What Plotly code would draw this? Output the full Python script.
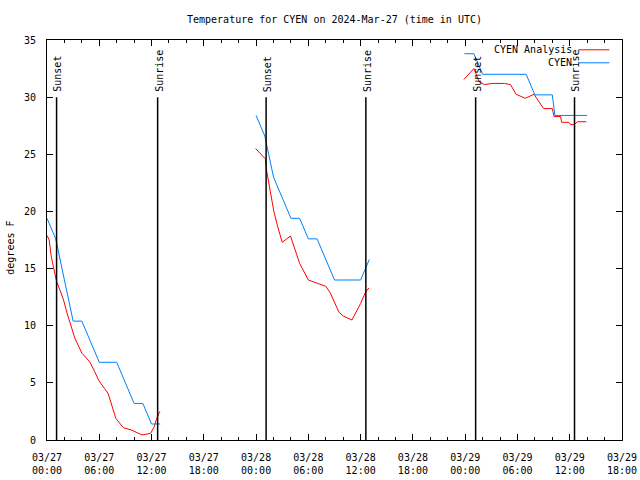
import plotly.graph_objects as go
import pandas as pd

BASE = pd.Timestamp("2024-03-27 00:00")
END_HOURS = 66

# CYEN Analysis (red) - hours since 03/27 00:00 UTC, None = gap
analysis_hours = [
    0.0, 0.25, 0.5, 0.85, 1.1, 1.5, 1.9, 2.3, 2.8, 3.2, 4.0, 4.9, 5.4, 5.95,
    6.6, 7.0, 7.9, 8.75, 9.7, 10.9, 11.9, 12.3, 12.65, 12.95,
    None,
    23.94, 24.7, 25.07, 25.2, 25.47, 25.74, 26.04, 26.43, 27.0, 27.95, 28.7,
    29.0, 30.0, 31.0, 32.0, 32.5, 33.0, 33.5, 34.0, 35.0, 36.0, 36.6, 36.95,
    None,
    47.85, 49.0, 49.6, 50.2, 51.1, 52.5, 53.2, 53.85, 54.3, 54.9, 55.9, 56.5,
    57.0, 58.0, 58.2, 58.96, 59.06, 59.9, 60.1, 60.5, 60.9, 61.9,
]
analysis_temps = [
    17.9, 17.5, 16.0, 14.7, 13.85, 13.1, 12.25, 11.1, 9.9, 8.9, 7.6, 6.85, 6.1, 5.2,
    4.5, 4.1, 1.9, 1.08, 0.87, 0.44, 0.58, 1.16, 2.0, 2.5,
    None,
    25.5, 24.9, 24.6, 23.6, 22.45, 21.1, 20.0, 18.8, 17.3, 17.85, 16.2,
    15.45, 14.0, 13.7, 13.45, 12.9, 12.0, 11.2, 10.85, 10.5, 11.95, 13.0, 13.3,
    None,
    31.55, 32.5, 31.35, 31.1, 31.2, 31.2, 31.1, 30.25, 30.1, 29.9, 30.25, 29.6,
    29.0, 29.0, 28.3, 28.3, 27.8, 27.8, 27.6, 27.6, 27.85, 27.85,
]

# CYEN observations (blue)
obs_hours = [
    0, 1, 2, 3, 4, 5, 6, 7, 8, 9, 10, 11, 12, 13,
    None,
    24, 25, 26, 27, 28, 29, 30, 31, 32, 33, 34, 35, 36, 37,
    None,
    47.9, 49, 50, 55, 56, 58, 58.3, 62,
]
obs_temps = [
    19.4, 17.6, 14.0, 10.4, 10.4, 8.6, 6.8, 6.8, 6.8, 5.0, 3.2, 3.2, 1.4, 1.4,
    None,
    28.4, 26.6, 23.0, 21.2, 19.4, 19.4, 17.6, 17.6, 15.8, 14.0, 14.0, 14.0, 14.0, 15.8,
    None,
    33.8, 33.8, 32.0, 32.0, 30.2, 30.2, 28.4, 28.4,
]

sunset_hours = [1.1, 25.15, 49.2]
sunrise_hours = [12.7, 36.6, 60.55]
marker_top = 30

series_names = ["CYEN Analysis", "CYEN"]
series_colors = ["#ff0000", "#0080ff"]

FONT = "DejaVu Sans Mono"
FS = 10


def to_time(h):
    if h is None:
        return None
    return (BASE + pd.Timedelta(hours=h)).strftime("%Y-%m-%d %H:%M:%S")


fig = go.Figure()
fig.add_trace(go.Scatter(
    x=[to_time(h) for h in analysis_hours], y=analysis_temps,
    mode="lines", line=dict(color=series_colors[0], width=1),
    name=series_names[0], showlegend=False, connectgaps=False))
fig.add_trace(go.Scatter(
    x=[to_time(h) for h in obs_hours], y=obs_temps,
    mode="lines", line=dict(color=series_colors[1], width=1),
    name=series_names[1], showlegend=False, connectgaps=False))

shapes = []
annotations = []
for label, hours in (("Sunset", sunset_hours), ("Sunrise", sunrise_hours)):
    for h in hours:
        t = to_time(h)
        shapes.append(dict(type="line", xref="x", yref="y", x0=t, x1=t,
                           y0=0, y1=marker_top,
                           line=dict(color="black", width=1.5)))
        annotations.append(dict(x=t, y=marker_top, xref="x", yref="y",
                                text=label, textangle=-90, showarrow=False,
                                xanchor="center", yanchor="bottom", yshift=3, xshift=1,
                                font=dict(family=FONT, size=FS, color="black")))

# manual legend (text right-aligned, sample line to its right)
legend_y = [0.9755, 0.943]
for name, color, ly in zip(series_names, series_colors, legend_y):
    annotations.append(dict(x=0.916, y=ly, xref="paper", yref="paper", text=name,
                            showarrow=False, xanchor="right", yanchor="middle",
                            font=dict(family=FONT, size=FS, color="black")))
    shapes.append(dict(type="line", xref="paper", yref="paper", x0=0.924, x1=0.978,
                       y0=ly, y1=ly, line=dict(color=color, width=1)))

annotations.append(dict(x=-0.0635, y=0.482, xref="paper", yref="paper",
                        text="degrees F", textangle=-90, showarrow=False,
                        xanchor="center", yanchor="middle",
                        font=dict(family=FONT, size=FS, color="black")))

fig.update_layout(
    width=640, height=480,
    margin=dict(l=47, r=18, t=40, b=40),
    paper_bgcolor="white", plot_bgcolor="white",
    title=dict(text="Temperature for CYEN on 2024-Mar-27 (time in UTC)",
               x=0.5, xref="paper", y=1 - 19 / 480, yref="container",
               xanchor="center", yanchor="middle",
               font=dict(family=FONT, size=FS, color="black")),
    shapes=shapes, annotations=annotations,
    showlegend=False,
    xaxis=dict(
        type="date", automargin=False,
        range=[to_time(0), to_time(END_HOURS)],
        tick0=to_time(0), dtick=6 * 3600 * 1000,
        tickformat="%m/%d<br>%H:%M",
        ticks="inside", ticklen=6, tickcolor="black", tickwidth=1,
        showline=True, linecolor="black", linewidth=1, mirror="ticks",
        showgrid=False, zeroline=False,
        minor=dict(dtick=2 * 3600 * 1000, ticks="inside", ticklen=3,
                   tickcolor="black", showgrid=False),
        tickfont=dict(family=FONT, size=FS, color="black"),
        ticklabelstandoff=8,
    ),
    yaxis=dict(
        range=[0, 35], dtick=5, tick0=0, automargin=False,
        ticks="inside", ticklen=6, tickcolor="black", tickwidth=1,
        showline=True, linecolor="black", linewidth=1, mirror="ticks",
        showgrid=False, zeroline=False,
        tickfont=dict(family=FONT, size=FS, color="black"),
        ticklabelstandoff=8,
    ),
)

fig.write_html("out.html", config={"displayModeBar": False},
               post_script="document.body.style.margin='0px';document.body.style.overflow='hidden';")
